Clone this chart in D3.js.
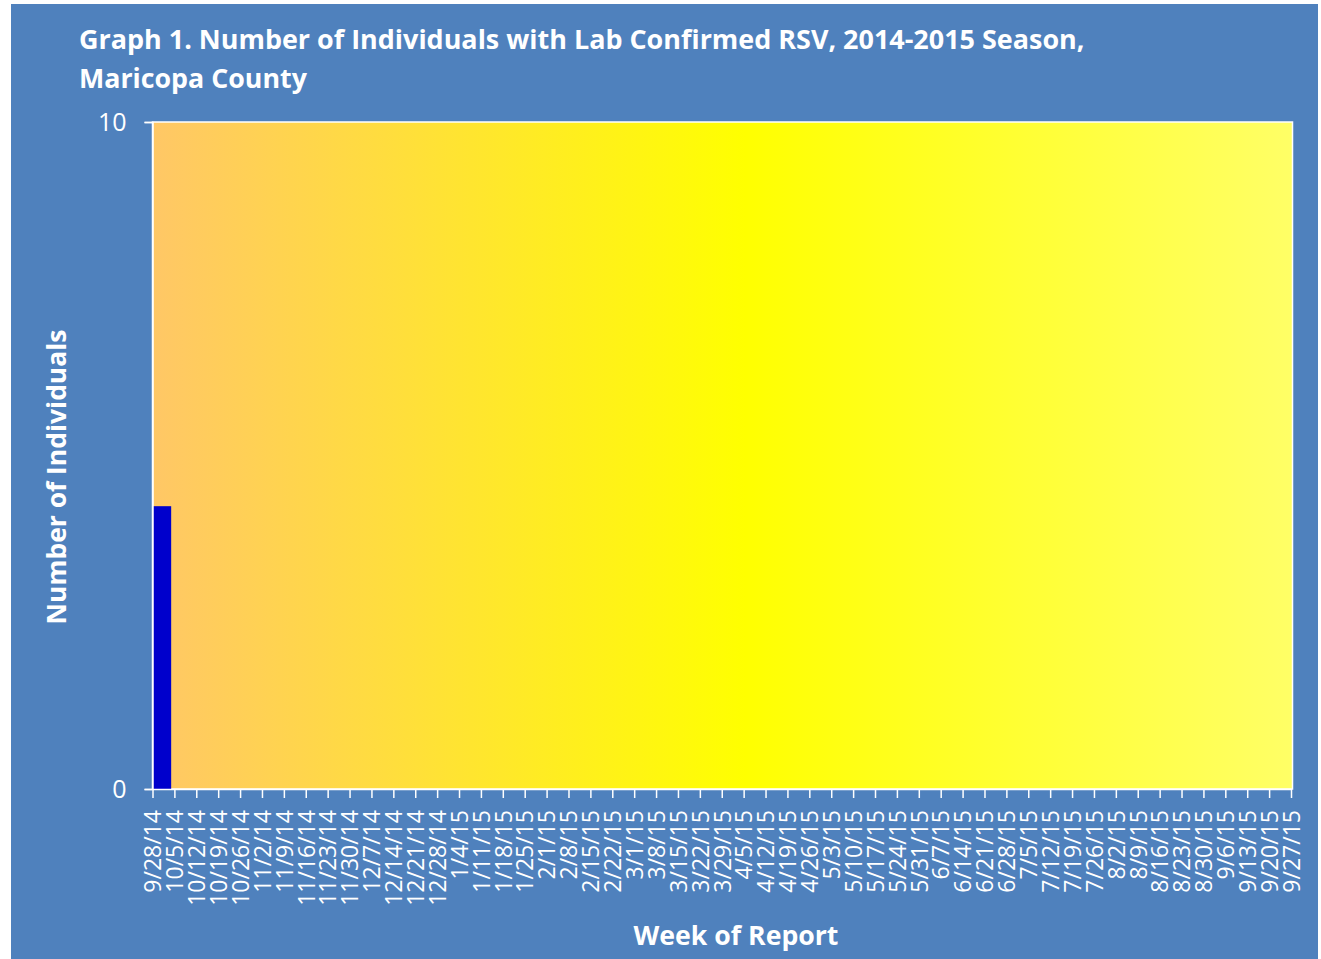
<!DOCTYPE html>
<html>
<head>
<meta charset="utf-8">
<script src="https://cdnjs.cloudflare.com/ajax/libs/d3/7.8.5/d3.min.js"></script>
<style>
  html, body { margin: 0; padding: 0; background: #ffffff; }
  svg { display: block; }
  text { font-family: "Open Sans", "Liberation Sans", sans-serif; fill: #ffffff; }
</style>
</head>
<body>
<svg id="chart" width="1321" height="959"></svg>
<script>
// weeks of report (x categories)
const weeks = [
  "9/28/14","10/5/14","10/12/14","10/19/14","10/26/14","11/2/14","11/9/14","11/16/14",
  "11/23/14","11/30/14","12/7/14","12/14/14","12/21/14","12/28/14","1/4/15","1/11/15",
  "1/18/15","1/25/15","2/1/15","2/8/15","2/15/15","2/22/15","3/1/15","3/8/15",
  "3/15/15","3/22/15","3/29/15","4/5/15","4/12/15","4/19/15","4/26/15","5/3/15",
  "5/10/15","5/17/15","5/24/15","5/31/15","6/7/15","6/14/15","6/21/15","6/28/15",
  "7/5/15","7/12/15","7/19/15","7/26/15","8/2/15","8/9/15","8/16/15","8/23/15",
  "8/30/15","9/6/15","9/13/15","9/20/15","9/27/15"
];
// number of individuals per week (only the first week has a value)
const individuals = [4.24];
const yTicks = [0, 10];

const titleLines = [
  "Graph 1. Number of Individuals with Lab Confirmed RSV, 2014-2015 Season,",
  "Maricopa County"
];

const svg = d3.select("#chart");

// panel background
svg.append("rect")
  .attr("x", 11).attr("y", 4)
  .attr("width", 1307).attr("height", 960)
  .attr("fill", "#4F81BD");

const plot = { left: 152.5, top: 122, right: 1292.5, bottom: 789 };

// gradient for the plot area
const defs = svg.append("defs");
const grad = defs.append("linearGradient").attr("id", "bg").attr("x1", "0").attr("x2", "1").attr("y1", "0").attr("y2", "0");
grad.append("stop").attr("offset", "0%").attr("stop-color", "#FFC766");
grad.append("stop").attr("offset", "52%").attr("stop-color", "#FFFF00");
grad.append("stop").attr("offset", "100%").attr("stop-color", "#FFFF66");
defs.append("clipPath").attr("id", "clip")
  .append("rect")
  .attr("x", plot.left).attr("y", plot.top)
  .attr("width", plot.right - plot.left).attr("height", plot.bottom - plot.top);

svg.append("rect")
  .attr("x", plot.left).attr("y", plot.top)
  .attr("width", plot.right - plot.left).attr("height", plot.bottom - plot.top)
  .attr("fill", "url(#bg)")
  .attr("stroke", "#ffffff").attr("stroke-width", 1.5);

// scales
const x = d3.scalePoint().domain(weeks).range([plot.left, plot.right - 1.5]);
const y = d3.scaleLinear().domain([0, 10]).range([plot.bottom, plot.top]);

// bars
svg.append("g").attr("clip-path", "url(#clip)")
  .selectAll("rect")
  .data(individuals)
  .join("rect")
  .attr("x", (d, i) => x(weeks[i]) + 0.5)
  .attr("width", x.step() * 0.83)
  .attr("y", d => y(d))
  .attr("height", d => y(0) - y(d))
  .attr("fill", "#0000CC");

// y axis
const yAxis = svg.append("g")
  .attr("transform", `translate(${plot.left},0)`)
  .call(d3.axisLeft(y).tickValues(yTicks).tickSize(8).tickPadding(18));
yAxis.select(".domain").attr("stroke", "#ffffff").attr("stroke-width", 1.5);
yAxis.selectAll(".tick line").attr("stroke", "#ffffff").attr("stroke-width", 1.5);
yAxis.selectAll(".tick text")
  .attr("font-size", 25)
  .attr("font-family", "'Open Sans', sans-serif")
  .attr("fill", "#ffffff");

// x axis
const xAxis = svg.append("g")
  .attr("transform", `translate(0,${plot.bottom})`)
  .call(d3.axisBottom(x).tickSize(9).tickSizeOuter(0));
xAxis.select(".domain").attr("stroke", "#ffffff").attr("stroke-width", 1.5);
xAxis.selectAll(".tick line").attr("stroke", "#ffffff").attr("stroke-width", 1.5);
xAxis.selectAll(".tick text")
  .attr("font-size", 23)
  .attr("font-family", "'Open Sans', sans-serif")
  .attr("fill", "#ffffff")
  .attr("text-anchor", "end")
  .attr("transform", "translate(0,21) rotate(-90)")
  .attr("x", 0).attr("y", 0)
  .attr("dy", "0.36em");

// fit text to a measured width
function fit(sel, width) {
  const size = +sel.attr("font-size");
  const len = sel.node().getComputedTextLength();
  sel.attr("font-size", size * width / len);
}

// title
const tWidths = [1006, 228];
titleLines.forEach((t, i) => {
  const s = svg.append("text")
    .attr("x", 79).attr("y", 49 + i * 39)
    .attr("font-size", 26)
    .attr("font-weight", 700)
    .text(t);
  fit(s, tWidths[i]);
});

// axis titles
const yt = svg.append("text")
  .attr("transform", "translate(66,477) rotate(-90)")
  .attr("text-anchor", "middle")
  .attr("font-size", 26).attr("font-weight", 700)
  .text("Number of Individuals");
fit(yt, 295);

const xt = svg.append("text")
  .attr("x", 736).attr("y", 945)
  .attr("text-anchor", "middle")
  .attr("font-size", 26).attr("font-weight", 700)
  .text("Week of Report");
fit(xt, 205);
</script>
</body>
</html>
